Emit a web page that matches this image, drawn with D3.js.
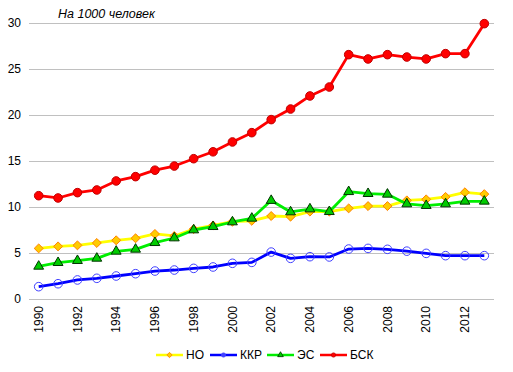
<!DOCTYPE html>
<html><head><meta charset="utf-8">
<script src="https://cdn.jsdelivr.net/npm/d3@7"></script>
<style>body{margin:0;background:#fff}svg{display:block}text{font-family:"Liberation Sans",Arial,sans-serif}</style>
</head><body><svg id="c" width="513" height="372"></svg>
<script>
const years = d3.range(1990, 2014).map(String);
const yTicks = [0, 5, 10, 15, 20, 25, 30];
const xTickLabels = ["1990","1992","1994","1996","1998","2000","2002","2004","2006","2008","2010","2012"];
const seriesNames = ["НО", "ККР", "ЭС", "БСК"];
const NO  = [5.5,5.72,5.83,6.09,6.38,6.6,7.07,6.85,7.6,8.0,8.4,8.5,9.02,8.95,9.5,9.5,9.85,10.1,10.1,10.72,10.83,11.1,11.6,11.4];
const KKR = [1.34,1.66,2.07,2.25,2.5,2.75,3.04,3.15,3.33,3.48,3.88,3.98,5.1,4.42,4.6,4.57,5.43,5.5,5.4,5.2,4.96,4.71,4.71,4.71];
const ES  = [3.55,3.95,4.17,4.42,5.18,5.4,6.12,6.63,7.5,7.86,8.37,8.77,10.7,9.46,9.78,9.49,11.66,11.45,11.38,10.33,10.15,10.33,10.62,10.62];
const BSK = [11.23,10.98,11.56,11.85,12.83,13.3,14.0,14.45,15.25,16.0,17.07,18.08,19.5,20.65,22.07,23.04,26.56,26.09,26.56,26.3,26.09,26.67,26.67,29.93];
const title = "На 1000 человек";

const svg = d3.select("#c");
const x = d3.scaleBand().domain(years).range([29, 494]);
const y = d3.scaleLinear().domain([0, 30]).range([299, 23]);
const cx = d => x(d) + x.bandwidth()/2;

svg.append("g").selectAll("line").data(yTicks).join("line")
  .attr("x1", 29).attr("x2", 494)
  .attr("y1", d => y(d)).attr("y2", d => y(d))
  .attr("stroke", "#c0c0c0").attr("stroke-width", 1)
  .attr("shape-rendering", "crispEdges");

const yAxis = d3.axisLeft(y).tickValues(yTicks).tickSize(0).tickPadding(0).tickFormat(d3.format("d"));
const gy = svg.append("g").attr("transform", "translate(21,0)").call(yAxis);
gy.select(".domain").remove();
gy.selectAll("text").attr("font-size", 12).attr("fill", "#000").attr("font-family", '"Liberation Sans",Arial,sans-serif');

const xAxis = d3.axisBottom(x).tickValues(xTickLabels).tickSize(0).tickPadding(0);
const gx = svg.append("g").attr("transform", "translate(0,305)").call(xAxis);
gx.select(".domain").remove();
gx.selectAll("text")
  .attr("font-size", 12).attr("fill", "#000").attr("font-family", '"Liberation Sans",Arial,sans-serif')
  .attr("transform", "rotate(-90)")
  .attr("text-anchor", "end").attr("x", -1).attr("y", 0).attr("dy", "0.35em");

svg.append("text").attr("x", 58).attr("y", 18).attr("font-size", 12.5)
  .attr("font-style", "italic").attr("fill", "#000").text(title);

const squareDiamond = {
  draw(ctx, size) {
    const r = Math.sqrt(size / 2);
    ctx.moveTo(0, -r); ctx.lineTo(r, 0); ctx.lineTo(0, r); ctx.lineTo(-r, 0); ctx.closePath();
  }
};

const series = [
  {name: seriesNames[0], data: NO,  line: "#ffff00", marker: "diamond", fill: "#ffcc00", stroke: "#ff8000"},
  {name: seriesNames[1], data: KKR, line: "#0000ff", marker: "circleOpen", fill: "none", stroke: "#4040ff"},
  {name: seriesNames[2], data: ES,  line: "#00ee00", marker: "triangle", fill: "#00cc00", stroke: "#003300"},
  {name: seriesNames[3], data: BSK, line: "#ff0000", marker: "circle", fill: "#ff0000", stroke: "#c00000"}
];

const line = d3.line().x((d,i) => cx(years[i])).y(d => y(d));
const sym = {
  diamond: d3.symbol().type(squareDiamond).size(40),
  triangle: d3.symbol().type(d3.symbolTriangle).size(42),
  circle: d3.symbol().type(d3.symbolCircle).size(58),
  circleOpen: d3.symbol().type(d3.symbolCircle).size(58)
};

series.forEach(s => {
  const g = svg.append("g");
  g.append("path").datum(s.data).attr("d", line).attr("fill", "none")
    .attr("stroke", s.line).attr("stroke-width", 2.8).attr("stroke-linejoin", "round");
  g.selectAll("path.m").data(s.data).join("path").attr("class", "m")
    .attr("d", sym[s.marker])
    .attr("transform", (d,i) => `translate(${cx(years[i])},${y(d)})`)
    .attr("fill", s.fill).attr("stroke", s.stroke).attr("stroke-width", 1);
});

const legX = [156, 210, 267, 320];
const lg = svg.append("g");
series.forEach((s, i) => {
  const g = lg.append("g").attr("transform", `translate(${legX[i]},355)`);
  g.append("line").attr("x1", 0).attr("x2", 27).attr("y1", 0).attr("y2", 0)
    .attr("stroke", s.line).attr("stroke-width", 2.5);
  g.append("path").attr("d", d3.symbol().type(
      s.marker === "diamond" ? squareDiamond : s.marker === "triangle" ? d3.symbolTriangle : d3.symbolCircle).size(14))
    .attr("transform", "translate(13.5,0)")
    .attr("fill", s.marker === "circleOpen" ? "#4040ff" : s.fill).attr("stroke", s.stroke).attr("stroke-width", 0.8);
  g.append("text").attr("x", 30).attr("y", 0).attr("dy", "0.36em").attr("font-size", 12).attr("fill", "#000").text(s.name);
});
</script></body></html>
